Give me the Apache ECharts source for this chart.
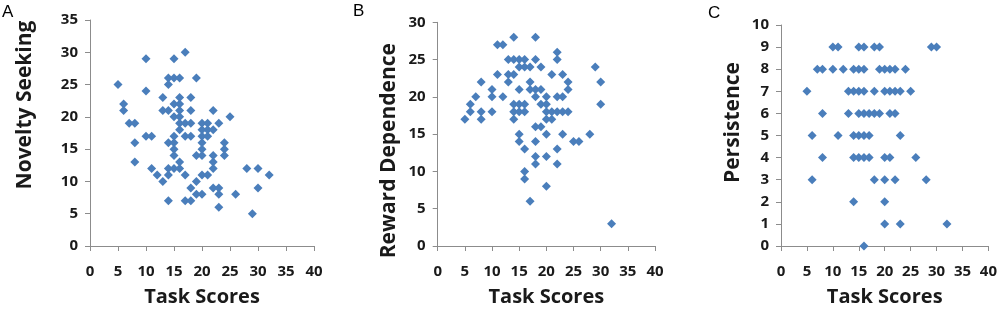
<!DOCTYPE html>
<html><head><meta charset="utf-8">
<script src="https://cdn.jsdelivr.net/npm/echarts@6/dist/echarts.min.js"></script>
<style>html,body{margin:0;padding:0;background:#fff}#c{width:1000px;height:312px}</style>
</head><body><div id="c"></div>
<script>
const xTicks = ['0','5','10','15','20','25','30','35','40'];
const xTitle = 'Task Scores';
const panelLetters = ['A','B','C'];
const yTitles = ['Novelty Seeking','Reward Dependence','Persistence'];
const yMaxes = [35, 30, 10];
const yIntervals = [5, 5, 1];

const noveltySeeking = [
[5,25],[6,22],[6,21],[7,19],[8,19],[8,16],[8,13],
[10,29],[10,24],[10,17],[11,17],[11,12],[12,11],[13,10],
[13,23],[13,21],[14,21],[14,26],[15,26],[16,26],[14,25],[15,29],[17,30],[19,26],
[16,23],[18,23],[15,22],[16,22],[16,21],[18,21],[22,21],[15,20],[16,20],[25,20],
[16,19],[17,19],[18,19],[20,19],[21,19],[23,19],
[16,18],[20,18],[21,18],[22,18],
[15,17],[17,17],[18,17],[20,17],[21,17],
[14,16],[15,16],[20,16],[24,16],
[15,15],[20,15],[24,15],
[15,14],[19,14],[20,14],[22,14],[24,14],
[16,13],[22,13],
[14,12],[15,12],[16,12],[22,12],[28,12],[30,12],
[14,11],[17,11],[20,11],[21,11],[32,11],
[19,10],
[18,9],[22,9],[23,9],[30,9],
[19,8],[20,8],[23,8],[26,8],
[14,7],[17,7],[18,7],
[23,6],[29,5]
];
const rewardDependence = [
[5,17],[6,18],[6,19],[7,20],[8,22],[8,18],[8,17],
[10,21],[10,20],[10,18],[11,23],[11,27],[12,27],[12,20],
[13,25],[13,23],[13,22],[14,28],[14,25],[14,23],[14,19],[14,18],[14,17],
[15,25],[15,24],[15,21],[15,19],[15,18],[15,15],[15,14],
[16,25],[16,24],[16,19],[16,18],[16,13],[16,10],[16,9],
[17,24],[17,22],[17,21],[17,6],
[18,28],[18,25],[18,21],[18,20],[18,16],[18,14],[18,12],[18,11],
[19,24],[19,21],[19,19],[19,16],
[20,20],[20,19],[20,18],[20,17],[20,15],[20,12],[20,8],
[21,23],[21,18],[21,17],
[22,26],[22,25],[22,20],[22,18],[22,13],[22,11],
[23,23],[23,20],[23,18],[23,15],
[24,22],[24,21],[24,18],
[25,14],[26,14],[28,15],[29,24],[30,22],[30,19],[32,3]
];
const persistence = [
[10,9],[11,9],[15,9],[16,9],[18,9],[19,9],[29,9],[30,9],
[7,8],[8,8],[10,8],[12,8],[14,8],[15,8],[16,8],[19,8],[20,8],[21,8],[22,8],[24,8],
[5,7],[13,7],[14,7],[15,7],[16,7],[18,7],[20,7],[21,7],[22,7],[23,7],[25,7],
[8,6],[13,6],[15,6],[16,6],[17,6],[18,6],[19,6],[21,6],[22,6],
[6,5],[11,5],[14,5],[15,5],[16,5],[17,5],[23,5],
[8,4],[14,4],[15,4],[16,4],[17,4],[20,4],[21,4],[26,4],
[6,3],[18,3],[20,3],[22,3],[28,3],
[14,2],[20,2],
[20,1],[23,1],[32,1],
[16,0]
];
const seriesData = [noveltySeeking, rewardDependence, persistence];

const grids = [
  {left:90, right:686, top:20, bottom:65.3},
  {left:437.7, right:345, top:22.3, bottom:65.3},
  {left:781, right:11.2, top:25, bottom:65.3}
];
const yNameGap = [54, 38, 37];
const yNamePad = [[0,0,0,56],[0,33,0,0],[0,0,0,26]];
const letterPos = [[2,4],[353,3],[708,5]];

const axisGray = '#8c8c8c';
const labelStyle = {color:'#1a1a1a', fontFamily:'Open Sans', fontWeight:'bold', fontSize:15};
const mk = '#4a7ebb';

const option = {
  animation:false,
  grid: grids.map(g=>Object.assign({containLabel:false}, g)),
  xAxis: grids.map((g,i)=>({
    gridIndex:i, type:'value', min:0, max:40, interval:5,
    name:xTitle, nameLocation:'middle', nameGap:41,
    nameTextStyle:{color:'#1a1a1a', fontFamily:'Open Sans', fontWeight:'bold', fontSize:20},
    axisLine:{show:true, onZero:false, lineStyle:{color:axisGray, width:1}},
    axisTick:{show:true, inside:false, length:5, lineStyle:{color:axisGray}},
    axisLabel:Object.assign({margin:18, formatter:v=>xTicks[Math.round(v/5)]}, labelStyle),
    splitLine:{show:false}
  })),
  yAxis: grids.map((g,i)=>({
    gridIndex:i, type:'value', min:0, max:yMaxes[i], interval:yIntervals[i],
    name:yTitles[i], nameLocation:'middle', nameGap:yNameGap[i], nameRotate:90,
    nameTextStyle:{color:'#1a1a1a', fontFamily:'Open Sans', fontWeight:'bold', fontSize:21, padding:yNamePad[i]},
    axisLine:{show:true, onZero:false, lineStyle:{color:axisGray, width:1}},
    axisTick:{show:true, inside:false, length:5, lineStyle:{color:axisGray}},
    axisLabel:Object.assign({margin:12}, labelStyle),
    splitLine:{show:false}
  })),
  series: seriesData.map((d,i)=>({
    type:'scatter', xAxisIndex:i, yAxisIndex:i, data:d,
    symbol:'diamond', symbolSize:[9,9],
    itemStyle:{color:mk, opacity:1}
  })),
  graphic: panelLetters.map((t,i)=>({
    type:'text', left:letterPos[i][0], top:letterPos[i][1],
    style:{text:t, fill:'#000', font:'17px "Liberation Sans", Arial, sans-serif'}
  }))
};
const chart = echarts.init(document.getElementById('c'));
chart.setOption(option);
</script></body></html>
